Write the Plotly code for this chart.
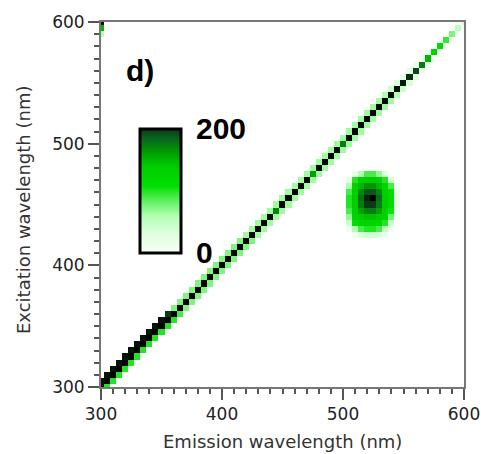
import numpy as np
import plotly.graph_objects as go

# ---------------- data ----------------
em_grid = list(range(300, 605, 5))   # emission wavelength grid (nm)
ex_grid = list(range(300, 605, 5))   # excitation wavelength grid (nm)

# Rayleigh-scatter diagonal (em == ex), one value per excitation step 300..600
diag_center = [260, 260, 260, 260, 260, 260, 260, 260, 260, 260, 260, 260, 260,
               250, 250, 250, 250, 250, 250, 250, 250, 250, 250, 250, 250,
               245, 245, 245, 245, 170, 245, 245, 245, 245, 245, 160, 245,
               245, 245, 245, 175, 245, 245, 245, 245, 245, 245, 245, 240,
               235, 225, 210, 195, 175, 150, 130, 115, 95, 75, 55, 35]
# neighbour cell with em = ex - 5
diag_upper = [0, 230, 230, 230, 230, 230, 230, 230, 230, 230, 230, 230, 200,
              75, 75, 75, 75, 75, 75, 75, 75, 75, 75, 75, 75,
              65, 65, 65, 65, 65, 65, 65, 65, 65, 65, 65, 65,
              65, 65, 65, 65, 65, 65, 65, 65, 65, 65, 65, 60,
              45, 35, 28, 22, 16, 12, 9, 6, 4, 2, 0, 0]
# neighbour cell with em = ex + 5
diag_lower = [100, 100, 100, 100, 100, 100, 100, 100, 100, 100, 100, 100, 90,
              75, 75, 75, 75, 75, 75, 75, 75, 75, 75, 75, 75,
              65, 65, 65, 65, 65, 65, 65, 65, 65, 65, 65, 65,
              65, 65, 65, 65, 65, 65, 65, 65, 65, 65, 65, 60,
              45, 35, 28, 22, 16, 12, 9, 6, 4, 2, 0, 0]

# fluorescence spot around em 520 nm / ex 455 nm
spot_em = [505, 510, 515, 520, 525, 530, 535, 540, 545]
spot_ex = [425, 430, 435, 440, 445, 450, 455, 460, 465, 470, 475]
spot_z = [
    [0, 10, 30, 40, 40, 30, 10, 0, 0],
    [10, 60, 90, 100, 100, 90, 50, 10, 0],
    [40, 110, 125, 125, 125, 120, 100, 40, 0],
    [70, 130, 140, 145, 145, 140, 125, 80, 10],
    [90, 135, 160, 175, 175, 160, 135, 105, 15],
    [100, 140, 175, 200, 200, 175, 140, 115, 20],
    [100, 140, 180, 215, 250, 180, 140, 115, 20],
    [90, 135, 170, 190, 190, 170, 135, 110, 20],
    [60, 130, 150, 165, 165, 150, 130, 90, 10],
    [20, 100, 130, 140, 140, 130, 100, 40, 0],
    [0, 20, 60, 90, 90, 70, 30, 0, 0],
]

# small second-order artefact in the top-left corner (em, ex, value)
corner_em = [300, 300, 300]
corner_ex = [600, 595, 590]
corner_val = [240, 150, 60]

colorbar_ticks = [0, 200]
colorbar_labels = ["0", "200"]

# ---------------- build matrix ----------------
n = len(ex_grid)
z = np.zeros((n, len(em_grid)))
for i in range(n):
    z[i][i] = diag_center[i]
    if i - 1 >= 0:
        z[i][i - 1] = diag_upper[i]
    if i + 1 < len(em_grid):
        z[i][i + 1] = diag_lower[i]
for r, ex in enumerate(spot_ex):
    for c, em in enumerate(spot_em):
        z[ex_grid.index(ex)][em_grid.index(em)] = spot_z[r][c]
for em, ex, v in zip(corner_em, corner_ex, corner_val):
    z[ex_grid.index(ex)][em_grid.index(em)] = v

# colour scales
bar_stops = [
    (0.0, "#ffffff"), (0.04, "#f0fff0"), (0.15, "#e0ffe0"), (0.30, "#b0ffb0"),
    (0.42, "#60f060"), (0.54, "#00e000"), (0.70, "#00cc00"), (0.82, "#009900"),
    (0.93, "#0a6020"), (1.0, "#0a3a15"),
]
bar_cs = [[s, c] for s, c in bar_stops]
ZMAX = 250
k = 200 / ZMAX
main_cs = [[s * k, c] for s, c in bar_stops] + [[0.9, "#041a08"], [1.0, "#000000"]]

fig = go.Figure()
fig.add_trace(go.Heatmap(
    x=em_grid, y=ex_grid, z=z, zmin=0, zmax=ZMAX,
    colorscale=main_cs, showscale=False, hoverinfo="skip",
))
# colour bar (0..200) drawn by a dummy trace
fig.add_trace(go.Scatter(
    x=[None], y=[None], mode="markers", showlegend=False,
    marker=dict(color=[0], cmin=0, cmax=200, colorscale=bar_cs, showscale=True,
                colorbar=dict(
                    x=0.107, xanchor="left", xpad=0,
                    y=0.708, yanchor="top", ypad=0,
                    lenmode="pixels", len=124, thicknessmode="pixels", thickness=41,
                    outlinewidth=3, outlinecolor="black",
                    tickvals=colorbar_ticks, ticktext=colorbar_labels,
                    ticks="outside", ticklen=8, tickcolor="rgba(0,0,0,0)",
                    tickfont=dict(family="Arial, Liberation Sans", size=30,
                                  color="black", weight="bold"),
                )),
))

axis_common = dict(
    showgrid=False, zeroline=False, showline=True, linecolor="#777", linewidth=2,
    mirror=True, ticks="outside", ticklen=11, tickwidth=1.5, tickcolor="#555",
    tickvals=[300, 400, 500, 600], automargin=False,
    minor=dict(ticks="outside", ticklen=5, tickwidth=1.5, tickcolor="#555", dtick=10),
    tickfont=dict(family="DejaVu Sans", size=17, color="#222"),
)
fig.update_xaxes(range=[300, 600], **axis_common)
fig.update_yaxes(range=[300, 600], **axis_common)

fig.update_layout(
    width=481, height=454,
    margin=dict(l=101, r=17, t=22, b=67, autoexpand=False),
    paper_bgcolor="white", plot_bgcolor="white",
    annotations=[
        dict(text="Emission wavelength (nm)", x=0.501, y=-0.148, xref="paper", yref="paper",
             showarrow=False, xanchor="center", yanchor="middle",
             font=dict(family="DejaVu Sans", size=18, color="#333")),
        dict(text="Excitation wavelength (nm)", x=-0.212, y=0.485, xref="paper", yref="paper",
             showarrow=False, xanchor="center", yanchor="middle", textangle=-90,
             font=dict(family="DejaVu Sans", size=18, color="#333")),
        dict(text="<b>d)</b>", x=0.107, y=0.868, xref="paper", yref="paper",
             showarrow=False, xanchor="center", yanchor="middle",
             font=dict(family="Arial, Liberation Sans", size=30, color="black")),
    ],
)

# remove the default 8px page margin so the figure fills the window exactly
fig.write_html("out.html", config={"displayModeBar": False},
               post_script="document.body.style.margin='0';")
